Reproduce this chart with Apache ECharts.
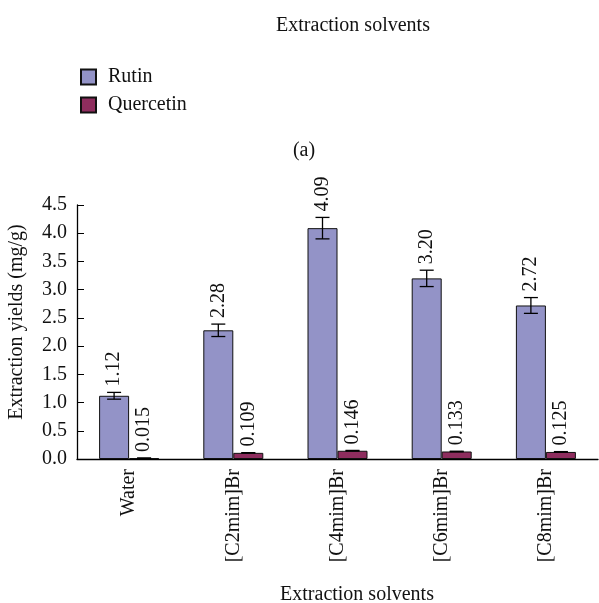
<!DOCTYPE html>
<html>
<head>
<meta charset="utf-8">
<script src="https://cdn.jsdelivr.net/npm/echarts@6/dist/echarts.min.js"></script>
<style>
html,body{margin:0;padding:0;background:#fff;}
#chart{width:599px;height:603px;}
</style>
</head>
<body>
<div id="chart"></div>
<script>
const categories = ['Water', '[C2mim]Br', '[C4mim]Br', '[C6mim]Br', '[C8mim]Br'];
const rutin = [1.12, 2.28, 4.09, 3.20, 2.72];
const rutinErr = [0.06, 0.11, 0.19, 0.145, 0.14];
const quercetin = [0.015, 0.109, 0.146, 0.133, 0.125];
const quercetinErr = [0.002, 0.004, 0.006, 0.005, 0.006];
const yTicks = [0, 0.5, 1.0, 1.5, 2.0, 2.5, 3.0, 3.5, 4.0, 4.5];

const FONT = 'Liberation Serif';
const FS = 20;
const BAR_W = 30;

function errSeries(values, errs, offset, digits) {
  return {
    type: 'custom',
    z: 10,
    silent: true,
    data: values.map((v, i) => [i, v, errs[i]]),
    renderItem: function (params, api) {
      const i = api.value(0), v = api.value(1), e = api.value(2);
      const c = api.coord([i, v]);
      const x = c[0] + offset;
      const yt = api.coord([i, v + e])[1];
      const yb = api.coord([i, v - e])[1];
      const hw = 7;
      const st = { stroke: '#000', lineWidth: 1.3 };
      return {
        type: 'group',
        children: [
          { type: 'line', shape: { x1: x, y1: yt, x2: x, y2: yb }, style: st },
          { type: 'line', shape: { x1: x - hw, y1: yt, x2: x + hw, y2: yt }, style: st },
          { type: 'line', shape: { x1: x - hw, y1: yb, x2: x + hw, y2: yb }, style: st },
          {
            type: 'text',
            x: x, y: yt - 6,
            rotation: Math.PI / 2,
            style: {
              text: v.toFixed(digits),
              fontFamily: FONT, fontSize: FS, fill: '#111',
              align: 'left', verticalAlign: 'middle'
            }
          }
        ]
      };
    }
  };
}

const chart = echarts.init(document.getElementById('chart'));
chart.setOption({
  animation: false,
  backgroundColor: '#fff',
  textStyle: { fontFamily: FONT },
  title: [
    { text: 'Extraction solvents', left: 348, top: 11, textAlign: 'center',
      textStyle: { fontFamily: FONT, fontSize: FS, fontWeight: 'normal', color: '#111' } },
    { text: '(a)', left: 299, top: 136, textAlign: 'center',
      textStyle: { fontFamily: FONT, fontSize: FS, fontWeight: 'normal', color: '#111' } }
  ],
  legend: {
    orient: 'vertical', left: 75, top: 62,
    itemWidth: 15, itemHeight: 15, itemGap: 8,
    icon: 'rect',
    data: ['Rutin', 'Quercetin'],
    textStyle: { fontFamily: FONT, fontSize: FS, color: '#111', padding: [0, 0, 0, 7] }
  },
  grid: { left: 77, right: 1, top: 205, bottom: 144, outerBoundsMode: 'none', containLabel: false },
  xAxis: {
    type: 'category',
    data: categories,
    boundaryGap: true,
    name: 'Extraction solvents',
    nameLocation: 'middle',
    nameGap: 126,
    nameTextStyle: { fontFamily: FONT, fontSize: FS, color: '#111', padding: [0, 0, 0, 39] },
    axisLine: { lineStyle: { color: '#000', width: 1.3 } },
    axisTick: { inside: true, length: 7, lineStyle: { color: '#000' } },
    axisLabel: { rotate: 90, margin: 10, fontFamily: FONT, fontSize: FS, color: '#111' },
    splitLine: { show: false }
  },
  yAxis: {
    type: 'value',
    min: yTicks[0], max: yTicks[yTicks.length - 1], interval: 0.5,
    name: 'Extraction yields (mg/g)',
    nameLocation: 'middle',
    nameGap: 50,
    nameTextStyle: { fontFamily: FONT, fontSize: FS, color: '#111', padding: [0, 0, 0, 20] },
    axisLine: { show: true, lineStyle: { color: '#000', width: 1.3 } },
    axisTick: { show: true, inside: true, length: 7, lineStyle: { color: '#000' } },
    axisLabel: { margin: 10, fontFamily: FONT, fontSize: FS, color: '#111',
      formatter: v => v.toFixed(1) },
    splitLine: { show: false }
  },
  series: [
    { name: 'Rutin', type: 'bar', data: rutin, barWidth: BAR_W, barGap: '0%',
      itemStyle: { color: '#9393C7', borderColor: '#111', borderWidth: 1 } },
    { name: 'Quercetin', type: 'bar', data: quercetin, barWidth: BAR_W, barGap: '0%',
      itemStyle: { color: '#8E2D5E', borderColor: '#111', borderWidth: 1 } },
    errSeries(rutin, rutinErr, -BAR_W / 2, 2),
    errSeries(quercetin, quercetinErr, BAR_W / 2, 3)
  ]
});
</script>
</body>
</html>
